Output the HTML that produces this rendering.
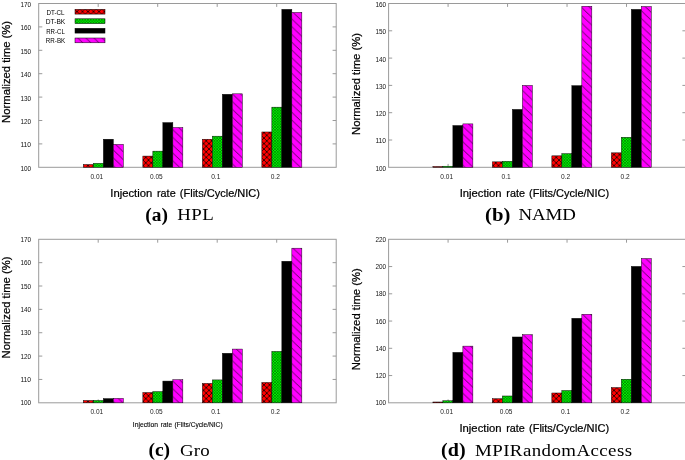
<!DOCTYPE html>
<html lang="en"><head><meta charset="utf-8"><title>Normalized time vs injection rate</title>
<style>html,body{margin:0;padding:0;background:#fff}body{width:685px;height:460px;overflow:hidden}svg{display:block;will-change:transform}</style>
</head><body>
<svg width="685" height="460" viewBox="0 0 685 460" font-family='"Liberation Sans", sans-serif'>
<defs>
<pattern id="pra" patternUnits="userSpaceOnUse" width="5.5" height="5.5" x="0.00" y="0.57"><rect width="5.5" height="5.5" fill="#ff0000"/><path d="M-1 -1L6.5 6.5M-1 6.5L6.5 -1" stroke="#000" stroke-width="0.75" fill="none"/></pattern>
<pattern id="pga" patternUnits="userSpaceOnUse" width="2.75" height="2.75" x="0.00" y="0.57"><rect width="2.75" height="2.75" fill="#00ff00"/><path d="M-1 -1L3.75 3.75M-1 3.75L3.75 -1" stroke="#000" stroke-width="0.38" fill="none"/></pattern>
<pattern id="pma" patternUnits="userSpaceOnUse" width="8.06" height="7.78" x="1.54" y="3.25"><rect width="8.06" height="7.78" fill="#ff00ff"/><path d="M-8.06 -7.78L16.12 15.56M-8.06 0L8.06 15.56M0 -7.78L16.12 7.78" stroke="#000" stroke-width="0.6" fill="none"/></pattern>
<pattern id="prb" patternUnits="userSpaceOnUse" width="5.5" height="5.5" x="3.50" y="0.57"><rect width="5.5" height="5.5" fill="#ff0000"/><path d="M-1 -1L6.5 6.5M-1 6.5L6.5 -1" stroke="#000" stroke-width="0.75" fill="none"/></pattern>
<pattern id="pgb" patternUnits="userSpaceOnUse" width="2.75" height="2.75" x="0.75" y="0.57"><rect width="2.75" height="2.75" fill="#00ff00"/><path d="M-1 -1L3.75 3.75M-1 3.75L3.75 -1" stroke="#000" stroke-width="0.38" fill="none"/></pattern>
<pattern id="pmb" patternUnits="userSpaceOnUse" width="8.06" height="7.78" x="4.96" y="3.25"><rect width="8.06" height="7.78" fill="#ff00ff"/><path d="M-8.06 -7.78L16.12 15.56M-8.06 0L8.06 15.56M0 -7.78L16.12 7.78" stroke="#000" stroke-width="0.6" fill="none"/></pattern>
<pattern id="prc" patternUnits="userSpaceOnUse" width="5.5" height="5.5" x="0.00" y="5.37"><rect width="5.5" height="5.5" fill="#ff0000"/><path d="M-1 -1L6.5 6.5M-1 6.5L6.5 -1" stroke="#000" stroke-width="0.75" fill="none"/></pattern>
<pattern id="pgc" patternUnits="userSpaceOnUse" width="2.75" height="2.75" x="0.00" y="2.62"><rect width="2.75" height="2.75" fill="#00ff00"/><path d="M-1 -1L3.75 3.75M-1 3.75L3.75 -1" stroke="#000" stroke-width="0.38" fill="none"/></pattern>
<pattern id="pmc" patternUnits="userSpaceOnUse" width="8.06" height="7.78" x="1.54" y="5.65"><rect width="8.06" height="7.78" fill="#ff00ff"/><path d="M-8.06 -7.78L16.12 15.56M-8.06 0L8.06 15.56M0 -7.78L16.12 7.78" stroke="#000" stroke-width="0.6" fill="none"/></pattern>
<pattern id="prd" patternUnits="userSpaceOnUse" width="5.5" height="5.5" x="3.50" y="5.37"><rect width="5.5" height="5.5" fill="#ff0000"/><path d="M-1 -1L6.5 6.5M-1 6.5L6.5 -1" stroke="#000" stroke-width="0.75" fill="none"/></pattern>
<pattern id="pgd" patternUnits="userSpaceOnUse" width="2.75" height="2.75" x="0.75" y="2.62"><rect width="2.75" height="2.75" fill="#00ff00"/><path d="M-1 -1L3.75 3.75M-1 3.75L3.75 -1" stroke="#000" stroke-width="0.38" fill="none"/></pattern>
<pattern id="pmd" patternUnits="userSpaceOnUse" width="8.06" height="7.78" x="4.96" y="5.65"><rect width="8.06" height="7.78" fill="#ff00ff"/><path d="M-8.06 -7.78L16.12 15.56M-8.06 0L8.06 15.56M0 -7.78L16.12 7.78" stroke="#000" stroke-width="0.6" fill="none"/></pattern>
</defs>
<rect width="685" height="460" fill="#fff"/>
<rect x="38.7" y="3.5" width="297.50" height="163.80" fill="none" stroke="#9a9a9a" stroke-width="1"/>
<text x="31.1" y="170.80" font-size="7.5" text-anchor="end" textLength="10.7" lengthAdjust="spacingAndGlyphs" fill="#111">100</text>
<path d="M38.7 143.90h3.6M336.2 143.90h-3.6" stroke="#9a9a9a" stroke-width="1" fill="none"/>
<text x="31.1" y="147.40" font-size="7.5" text-anchor="end" textLength="10.7" lengthAdjust="spacingAndGlyphs" fill="#111">110</text>
<path d="M38.7 120.50h3.6M336.2 120.50h-3.6" stroke="#9a9a9a" stroke-width="1" fill="none"/>
<text x="31.1" y="124.00" font-size="7.5" text-anchor="end" textLength="10.7" lengthAdjust="spacingAndGlyphs" fill="#111">120</text>
<path d="M38.7 97.10h3.6M336.2 97.10h-3.6" stroke="#9a9a9a" stroke-width="1" fill="none"/>
<text x="31.1" y="100.60" font-size="7.5" text-anchor="end" textLength="10.7" lengthAdjust="spacingAndGlyphs" fill="#111">130</text>
<path d="M38.7 73.70h3.6M336.2 73.70h-3.6" stroke="#9a9a9a" stroke-width="1" fill="none"/>
<text x="31.1" y="77.20" font-size="7.5" text-anchor="end" textLength="10.7" lengthAdjust="spacingAndGlyphs" fill="#111">140</text>
<path d="M38.7 50.30h3.6M336.2 50.30h-3.6" stroke="#9a9a9a" stroke-width="1" fill="none"/>
<text x="31.1" y="53.80" font-size="7.5" text-anchor="end" textLength="10.7" lengthAdjust="spacingAndGlyphs" fill="#111">150</text>
<path d="M38.7 26.90h3.6M336.2 26.90h-3.6" stroke="#9a9a9a" stroke-width="1" fill="none"/>
<text x="31.1" y="30.40" font-size="7.5" text-anchor="end" textLength="10.7" lengthAdjust="spacingAndGlyphs" fill="#111">160</text>
<text x="31.1" y="7.00" font-size="7.5" text-anchor="end" textLength="10.7" lengthAdjust="spacingAndGlyphs" fill="#111">170</text>
<path d="M98.20 3.5v3.4M98.20 167.3v-3.4" stroke="#9a9a9a" stroke-width="1" fill="none"/>
<rect x="83.35" y="164.49" width="10.00" height="2.81" fill="url(#pra)" stroke="#000" stroke-width="0.45"/>
<rect x="93.35" y="163.32" width="10.00" height="3.98" fill="url(#pga)" stroke="#000" stroke-width="0.45"/>
<rect x="103.35" y="139.22" width="10.00" height="28.08" fill="#000" stroke="#000" stroke-width="0.45"/>
<rect x="113.35" y="144.37" width="10.00" height="22.93" fill="url(#pma)" stroke="#000" stroke-width="0.45"/>
<text x="96.80" y="179.1" font-size="7" text-anchor="middle" textLength="12.7" lengthAdjust="spacingAndGlyphs" fill="#222">0.01</text>
<path d="M157.70 3.5v3.4M157.70 167.3v-3.4" stroke="#9a9a9a" stroke-width="1" fill="none"/>
<rect x="142.85" y="156.07" width="10.00" height="11.23" fill="url(#pra)" stroke="#000" stroke-width="0.45"/>
<rect x="152.85" y="151.15" width="10.00" height="16.15" fill="url(#pga)" stroke="#000" stroke-width="0.45"/>
<rect x="162.85" y="122.61" width="10.00" height="44.69" fill="#000" stroke="#000" stroke-width="0.45"/>
<rect x="172.85" y="127.52" width="10.00" height="39.78" fill="url(#pma)" stroke="#000" stroke-width="0.45"/>
<text x="156.30" y="179.1" font-size="7" text-anchor="middle" textLength="12.7" lengthAdjust="spacingAndGlyphs" fill="#222">0.05</text>
<path d="M217.20 3.5v3.4M217.20 167.3v-3.4" stroke="#9a9a9a" stroke-width="1" fill="none"/>
<rect x="202.35" y="139.22" width="10.00" height="28.08" fill="url(#pra)" stroke="#000" stroke-width="0.45"/>
<rect x="212.35" y="136.18" width="10.00" height="31.12" fill="url(#pga)" stroke="#000" stroke-width="0.45"/>
<rect x="222.35" y="94.29" width="10.00" height="73.01" fill="#000" stroke="#000" stroke-width="0.45"/>
<rect x="232.35" y="93.82" width="10.00" height="73.48" fill="url(#pma)" stroke="#000" stroke-width="0.45"/>
<text x="215.80" y="179.1" font-size="7" text-anchor="middle" textLength="9.2" lengthAdjust="spacingAndGlyphs" fill="#222">0.1</text>
<path d="M276.70 3.5v3.4M276.70 167.3v-3.4" stroke="#9a9a9a" stroke-width="1" fill="none"/>
<rect x="261.85" y="131.97" width="10.00" height="35.33" fill="url(#pra)" stroke="#000" stroke-width="0.45"/>
<rect x="271.85" y="107.16" width="10.00" height="60.14" fill="url(#pga)" stroke="#000" stroke-width="0.45"/>
<rect x="281.85" y="9.35" width="10.00" height="157.95" fill="#000" stroke="#000" stroke-width="0.45"/>
<rect x="291.85" y="12.39" width="10.00" height="154.91" fill="url(#pma)" stroke="#000" stroke-width="0.45"/>
<text x="275.30" y="179.1" font-size="7" text-anchor="middle" textLength="9.2" lengthAdjust="spacingAndGlyphs" fill="#222">0.2</text>
<text transform="translate(10.35 71.9) rotate(-90)" font-size="10.8" text-anchor="middle" textLength="102" lengthAdjust="spacingAndGlyphs" fill="#000" stroke="#000" stroke-width="0.22">Normalized time (%)</text>
<text y="197.4" font-size="10.8" fill="#000" stroke="#000" stroke-width="0.22" xml:space="preserve"><tspan x="110.26" textLength="42.04" lengthAdjust="spacingAndGlyphs">Injection</tspan><tspan x="153.97" textLength="21.69" lengthAdjust="spacingAndGlyphs"> rate</tspan><tspan x="176.75" textLength="83.25" lengthAdjust="spacingAndGlyphs"> (Flits/Cycle/NIC)</tspan></text>
<text x="145.2" y="220.7" font-family='"Liberation Serif", serif' font-weight="bold" font-size="18.5" textLength="22.7" lengthAdjust="spacingAndGlyphs" fill="#000">(a)</text>
<text transform="translate(177.3 220.2) scale(1.18 1)" font-family='"Liberation Serif", serif' font-size="16" textLength="30.9" lengthAdjust="spacing" fill="#000">HPL</text>
<rect x="388.6" y="3.5" width="297.40" height="163.80" fill="none" stroke="#9a9a9a" stroke-width="1"/>
<text x="386.1" y="170.70" font-size="7.5" text-anchor="end" textLength="10.7" lengthAdjust="spacingAndGlyphs" fill="#111">100</text>
<path d="M388.6 140.00h3.6M686.0 140.00h-3.6" stroke="#9a9a9a" stroke-width="1" fill="none"/>
<text x="386.1" y="143.40" font-size="7.5" text-anchor="end" textLength="10.7" lengthAdjust="spacingAndGlyphs" fill="#111">110</text>
<path d="M388.6 112.70h3.6M686.0 112.70h-3.6" stroke="#9a9a9a" stroke-width="1" fill="none"/>
<text x="386.1" y="116.10" font-size="7.5" text-anchor="end" textLength="10.7" lengthAdjust="spacingAndGlyphs" fill="#111">120</text>
<path d="M388.6 85.40h3.6M686.0 85.40h-3.6" stroke="#9a9a9a" stroke-width="1" fill="none"/>
<text x="386.1" y="88.80" font-size="7.5" text-anchor="end" textLength="10.7" lengthAdjust="spacingAndGlyphs" fill="#111">130</text>
<path d="M388.6 58.10h3.6M686.0 58.10h-3.6" stroke="#9a9a9a" stroke-width="1" fill="none"/>
<text x="386.1" y="61.50" font-size="7.5" text-anchor="end" textLength="10.7" lengthAdjust="spacingAndGlyphs" fill="#111">140</text>
<path d="M388.6 30.80h3.6M686.0 30.80h-3.6" stroke="#9a9a9a" stroke-width="1" fill="none"/>
<text x="386.1" y="34.20" font-size="7.5" text-anchor="end" textLength="10.7" lengthAdjust="spacingAndGlyphs" fill="#111">150</text>
<text x="386.1" y="6.90" font-size="7.5" text-anchor="end" textLength="10.7" lengthAdjust="spacingAndGlyphs" fill="#111">160</text>
<path d="M448.08 3.5v3.4M448.08 167.3v-3.4" stroke="#9a9a9a" stroke-width="1" fill="none"/>
<rect x="432.88" y="166.48" width="10.00" height="0.82" fill="url(#prb)" stroke="#000" stroke-width="0.45"/>
<rect x="442.88" y="166.21" width="10.00" height="1.09" fill="url(#pgb)" stroke="#000" stroke-width="0.45"/>
<rect x="452.88" y="125.53" width="10.00" height="41.77" fill="#000" stroke="#000" stroke-width="0.45"/>
<rect x="462.88" y="123.89" width="10.00" height="43.41" fill="url(#pmb)" stroke="#000" stroke-width="0.45"/>
<text x="446.68" y="178.9" font-size="7" text-anchor="middle" textLength="12.7" lengthAdjust="spacingAndGlyphs" fill="#222">0.01</text>
<path d="M507.56 3.5v3.4M507.56 167.3v-3.4" stroke="#9a9a9a" stroke-width="1" fill="none"/>
<rect x="492.36" y="161.84" width="10.00" height="5.46" fill="url(#prb)" stroke="#000" stroke-width="0.45"/>
<rect x="502.36" y="161.29" width="10.00" height="6.01" fill="url(#pgb)" stroke="#000" stroke-width="0.45"/>
<rect x="512.36" y="109.42" width="10.00" height="57.88" fill="#000" stroke="#000" stroke-width="0.45"/>
<rect x="522.36" y="85.40" width="10.00" height="81.90" fill="url(#pmb)" stroke="#000" stroke-width="0.45"/>
<text x="506.16" y="178.9" font-size="7" text-anchor="middle" textLength="9.2" lengthAdjust="spacingAndGlyphs" fill="#222">0.1</text>
<path d="M567.04 3.5v3.4M567.04 167.3v-3.4" stroke="#9a9a9a" stroke-width="1" fill="none"/>
<rect x="551.84" y="155.83" width="10.00" height="11.47" fill="url(#prb)" stroke="#000" stroke-width="0.45"/>
<rect x="561.84" y="153.65" width="10.00" height="13.65" fill="url(#pgb)" stroke="#000" stroke-width="0.45"/>
<rect x="571.84" y="85.67" width="10.00" height="81.63" fill="#000" stroke="#000" stroke-width="0.45"/>
<rect x="581.84" y="6.23" width="10.00" height="161.07" fill="url(#pmb)" stroke="#000" stroke-width="0.45"/>
<text x="565.64" y="178.9" font-size="7" text-anchor="middle" textLength="9.2" lengthAdjust="spacingAndGlyphs" fill="#222">0.2</text>
<path d="M626.52 3.5v3.4M626.52 167.3v-3.4" stroke="#9a9a9a" stroke-width="1" fill="none"/>
<rect x="611.32" y="152.83" width="10.00" height="14.47" fill="url(#prb)" stroke="#000" stroke-width="0.45"/>
<rect x="621.32" y="137.27" width="10.00" height="30.03" fill="url(#pgb)" stroke="#000" stroke-width="0.45"/>
<rect x="631.32" y="9.37" width="10.00" height="157.93" fill="#000" stroke="#000" stroke-width="0.45"/>
<rect x="641.32" y="6.50" width="10.00" height="160.80" fill="url(#pmb)" stroke="#000" stroke-width="0.45"/>
<text x="625.12" y="178.9" font-size="7" text-anchor="middle" textLength="9.2" lengthAdjust="spacingAndGlyphs" fill="#222">0.2</text>
<text transform="translate(359.9 84.0) rotate(-90)" font-size="10.8" text-anchor="middle" textLength="102" lengthAdjust="spacingAndGlyphs" fill="#000" stroke="#000" stroke-width="0.22">Normalized time (%)</text>
<text y="197.2" font-size="10.8" fill="#000" stroke="#000" stroke-width="0.22" xml:space="preserve"><tspan x="459.66" textLength="41.98" lengthAdjust="spacingAndGlyphs">Injection</tspan><tspan x="503.31" textLength="21.66" lengthAdjust="spacingAndGlyphs"> rate</tspan><tspan x="526.06" textLength="83.14" lengthAdjust="spacingAndGlyphs"> (Flits/Cycle/NIC)</tspan></text>
<text x="485.1" y="220.9" font-family='"Liberation Serif", serif' font-weight="bold" font-size="18.5" textLength="25.3" lengthAdjust="spacingAndGlyphs" fill="#000">(b)</text>
<text transform="translate(518.5 220.4) scale(1.18 1)" font-family='"Liberation Serif", serif' font-size="16" textLength="48.6" lengthAdjust="spacing" fill="#000">NAMD</text>
<rect x="38.7" y="239.3" width="297.50" height="163.50" fill="none" stroke="#9a9a9a" stroke-width="1"/>
<text x="31.1" y="405.45" font-size="7.5" text-anchor="end" textLength="10.7" lengthAdjust="spacingAndGlyphs" fill="#111">100</text>
<path d="M38.7 379.44h3.6M336.2 379.44h-3.6" stroke="#9a9a9a" stroke-width="1" fill="none"/>
<text x="31.1" y="382.09" font-size="7.5" text-anchor="end" textLength="10.7" lengthAdjust="spacingAndGlyphs" fill="#111">110</text>
<path d="M38.7 356.09h3.6M336.2 356.09h-3.6" stroke="#9a9a9a" stroke-width="1" fill="none"/>
<text x="31.1" y="358.74" font-size="7.5" text-anchor="end" textLength="10.7" lengthAdjust="spacingAndGlyphs" fill="#111">120</text>
<path d="M38.7 332.73h3.6M336.2 332.73h-3.6" stroke="#9a9a9a" stroke-width="1" fill="none"/>
<text x="31.1" y="335.38" font-size="7.5" text-anchor="end" textLength="10.7" lengthAdjust="spacingAndGlyphs" fill="#111">130</text>
<path d="M38.7 309.37h3.6M336.2 309.37h-3.6" stroke="#9a9a9a" stroke-width="1" fill="none"/>
<text x="31.1" y="312.02" font-size="7.5" text-anchor="end" textLength="10.7" lengthAdjust="spacingAndGlyphs" fill="#111">140</text>
<path d="M38.7 286.01h3.6M336.2 286.01h-3.6" stroke="#9a9a9a" stroke-width="1" fill="none"/>
<text x="31.1" y="288.66" font-size="7.5" text-anchor="end" textLength="10.7" lengthAdjust="spacingAndGlyphs" fill="#111">150</text>
<path d="M38.7 262.66h3.6M336.2 262.66h-3.6" stroke="#9a9a9a" stroke-width="1" fill="none"/>
<text x="31.1" y="265.31" font-size="7.5" text-anchor="end" textLength="10.7" lengthAdjust="spacingAndGlyphs" fill="#111">160</text>
<text x="31.1" y="241.95" font-size="7.5" text-anchor="end" textLength="10.7" lengthAdjust="spacingAndGlyphs" fill="#111">170</text>
<path d="M98.20 239.3v3.4M98.20 402.8v-3.4" stroke="#9a9a9a" stroke-width="1" fill="none"/>
<rect x="83.35" y="400.46" width="10.00" height="2.34" fill="url(#prc)" stroke="#000" stroke-width="0.45"/>
<rect x="93.35" y="400.46" width="10.00" height="2.34" fill="url(#pgc)" stroke="#000" stroke-width="0.45"/>
<rect x="103.35" y="398.60" width="10.00" height="4.20" fill="#000" stroke="#000" stroke-width="0.45"/>
<rect x="113.35" y="398.36" width="10.00" height="4.44" fill="url(#pmc)" stroke="#000" stroke-width="0.45"/>
<text x="96.80" y="414.4" font-size="7" text-anchor="middle" textLength="12.7" lengthAdjust="spacingAndGlyphs" fill="#222">0.01</text>
<path d="M157.70 239.3v3.4M157.70 402.8v-3.4" stroke="#9a9a9a" stroke-width="1" fill="none"/>
<rect x="142.85" y="392.52" width="10.00" height="10.28" fill="url(#prc)" stroke="#000" stroke-width="0.45"/>
<rect x="152.85" y="391.59" width="10.00" height="11.21" fill="url(#pgc)" stroke="#000" stroke-width="0.45"/>
<rect x="162.85" y="381.08" width="10.00" height="21.72" fill="#000" stroke="#000" stroke-width="0.45"/>
<rect x="172.85" y="379.68" width="10.00" height="23.12" fill="url(#pmc)" stroke="#000" stroke-width="0.45"/>
<text x="156.30" y="414.4" font-size="7" text-anchor="middle" textLength="12.7" lengthAdjust="spacingAndGlyphs" fill="#222">0.05</text>
<path d="M217.20 239.3v3.4M217.20 402.8v-3.4" stroke="#9a9a9a" stroke-width="1" fill="none"/>
<rect x="202.35" y="383.41" width="10.00" height="19.39" fill="url(#prc)" stroke="#000" stroke-width="0.45"/>
<rect x="212.35" y="379.91" width="10.00" height="22.89" fill="url(#pgc)" stroke="#000" stroke-width="0.45"/>
<rect x="222.35" y="353.28" width="10.00" height="49.52" fill="#000" stroke="#000" stroke-width="0.45"/>
<rect x="232.35" y="349.08" width="10.00" height="53.72" fill="url(#pmc)" stroke="#000" stroke-width="0.45"/>
<text x="215.80" y="414.4" font-size="7" text-anchor="middle" textLength="9.2" lengthAdjust="spacingAndGlyphs" fill="#222">0.1</text>
<path d="M276.70 239.3v3.4M276.70 402.8v-3.4" stroke="#9a9a9a" stroke-width="1" fill="none"/>
<rect x="261.85" y="382.48" width="10.00" height="20.32" fill="url(#prc)" stroke="#000" stroke-width="0.45"/>
<rect x="271.85" y="351.41" width="10.00" height="51.39" fill="url(#pgc)" stroke="#000" stroke-width="0.45"/>
<rect x="281.85" y="261.26" width="10.00" height="141.54" fill="#000" stroke="#000" stroke-width="0.45"/>
<rect x="291.85" y="248.18" width="10.00" height="154.62" fill="url(#pmc)" stroke="#000" stroke-width="0.45"/>
<text x="275.30" y="414.4" font-size="7" text-anchor="middle" textLength="9.2" lengthAdjust="spacingAndGlyphs" fill="#222">0.2</text>
<text transform="translate(9.9 307.5) rotate(-90)" font-size="10.8" text-anchor="middle" textLength="102" lengthAdjust="spacingAndGlyphs" fill="#000" stroke="#000" stroke-width="0.22">Normalized time (%)</text>
<text y="426.7" font-size="6.5" fill="#000" stroke="#000" stroke-width="0.1" xml:space="preserve"><tspan x="132.80" textLength="25.21" lengthAdjust="spacingAndGlyphs">Injection</tspan><tspan x="159.01" textLength="13.01" lengthAdjust="spacingAndGlyphs"> rate</tspan><tspan x="172.67" textLength="49.93" lengthAdjust="spacingAndGlyphs"> (Flits/Cycle/NIC)</tspan></text>
<text x="148.4" y="456.3" font-family='"Liberation Serif", serif' font-weight="bold" font-size="18.5" textLength="21.7" lengthAdjust="spacingAndGlyphs" fill="#000">(c)</text>
<text transform="translate(179.9 455.8) scale(1.18 1)" font-family='"Liberation Serif", serif' font-size="16" textLength="25.3" lengthAdjust="spacing" fill="#000">Gro</text>
<rect x="388.6" y="239.3" width="297.40" height="163.50" fill="none" stroke="#9a9a9a" stroke-width="1"/>
<text x="386.1" y="405.40" font-size="7.5" text-anchor="end" textLength="10.7" lengthAdjust="spacingAndGlyphs" fill="#111">100</text>
<path d="M388.6 375.55h3.6M686.0 375.55h-3.6" stroke="#9a9a9a" stroke-width="1" fill="none"/>
<text x="386.1" y="378.15" font-size="7.5" text-anchor="end" textLength="10.7" lengthAdjust="spacingAndGlyphs" fill="#111">120</text>
<path d="M388.6 348.30h3.6M686.0 348.30h-3.6" stroke="#9a9a9a" stroke-width="1" fill="none"/>
<text x="386.1" y="350.90" font-size="7.5" text-anchor="end" textLength="10.7" lengthAdjust="spacingAndGlyphs" fill="#111">140</text>
<path d="M388.6 321.05h3.6M686.0 321.05h-3.6" stroke="#9a9a9a" stroke-width="1" fill="none"/>
<text x="386.1" y="323.65" font-size="7.5" text-anchor="end" textLength="10.7" lengthAdjust="spacingAndGlyphs" fill="#111">160</text>
<path d="M388.6 293.80h3.6M686.0 293.80h-3.6" stroke="#9a9a9a" stroke-width="1" fill="none"/>
<text x="386.1" y="296.40" font-size="7.5" text-anchor="end" textLength="10.7" lengthAdjust="spacingAndGlyphs" fill="#111">180</text>
<path d="M388.6 266.55h3.6M686.0 266.55h-3.6" stroke="#9a9a9a" stroke-width="1" fill="none"/>
<text x="386.1" y="269.15" font-size="7.5" text-anchor="end" textLength="10.7" lengthAdjust="spacingAndGlyphs" fill="#111">200</text>
<text x="386.1" y="241.90" font-size="7.5" text-anchor="end" textLength="10.7" lengthAdjust="spacingAndGlyphs" fill="#111">220</text>
<path d="M448.08 239.3v3.4M448.08 402.8v-3.4" stroke="#9a9a9a" stroke-width="1" fill="none"/>
<rect x="432.88" y="401.98" width="10.00" height="0.82" fill="url(#prd)" stroke="#000" stroke-width="0.45"/>
<rect x="442.88" y="400.76" width="10.00" height="2.04" fill="url(#pgd)" stroke="#000" stroke-width="0.45"/>
<rect x="452.88" y="352.39" width="10.00" height="50.41" fill="#000" stroke="#000" stroke-width="0.45"/>
<rect x="462.88" y="346.12" width="10.00" height="56.68" fill="url(#pmd)" stroke="#000" stroke-width="0.45"/>
<text x="446.68" y="414.1" font-size="7" text-anchor="middle" textLength="12.7" lengthAdjust="spacingAndGlyphs" fill="#222">0.01</text>
<path d="M507.56 239.3v3.4M507.56 402.8v-3.4" stroke="#9a9a9a" stroke-width="1" fill="none"/>
<rect x="492.36" y="398.71" width="10.00" height="4.09" fill="url(#prd)" stroke="#000" stroke-width="0.45"/>
<rect x="502.36" y="395.99" width="10.00" height="6.81" fill="url(#pgd)" stroke="#000" stroke-width="0.45"/>
<rect x="512.36" y="336.99" width="10.00" height="65.81" fill="#000" stroke="#000" stroke-width="0.45"/>
<rect x="522.36" y="334.68" width="10.00" height="68.12" fill="url(#pmd)" stroke="#000" stroke-width="0.45"/>
<text x="506.16" y="414.1" font-size="7" text-anchor="middle" textLength="12.7" lengthAdjust="spacingAndGlyphs" fill="#222">0.05</text>
<path d="M567.04 239.3v3.4M567.04 402.8v-3.4" stroke="#9a9a9a" stroke-width="1" fill="none"/>
<rect x="551.84" y="392.99" width="10.00" height="9.81" fill="url(#prd)" stroke="#000" stroke-width="0.45"/>
<rect x="561.84" y="390.54" width="10.00" height="12.26" fill="url(#pgd)" stroke="#000" stroke-width="0.45"/>
<rect x="571.84" y="318.32" width="10.00" height="84.48" fill="#000" stroke="#000" stroke-width="0.45"/>
<rect x="581.84" y="314.24" width="10.00" height="88.56" fill="url(#pmd)" stroke="#000" stroke-width="0.45"/>
<text x="565.64" y="414.1" font-size="7" text-anchor="middle" textLength="9.2" lengthAdjust="spacingAndGlyphs" fill="#222">0.1</text>
<path d="M626.52 239.3v3.4M626.52 402.8v-3.4" stroke="#9a9a9a" stroke-width="1" fill="none"/>
<rect x="611.32" y="387.54" width="10.00" height="15.26" fill="url(#prd)" stroke="#000" stroke-width="0.45"/>
<rect x="621.32" y="379.23" width="10.00" height="23.57" fill="url(#pgd)" stroke="#000" stroke-width="0.45"/>
<rect x="631.32" y="266.41" width="10.00" height="136.39" fill="#000" stroke="#000" stroke-width="0.45"/>
<rect x="641.32" y="258.51" width="10.00" height="144.29" fill="url(#pmd)" stroke="#000" stroke-width="0.45"/>
<text x="625.12" y="414.1" font-size="7" text-anchor="middle" textLength="9.2" lengthAdjust="spacingAndGlyphs" fill="#222">0.2</text>
<text transform="translate(359.8 319.3) rotate(-90)" font-size="10.8" text-anchor="middle" textLength="102" lengthAdjust="spacingAndGlyphs" fill="#000" stroke="#000" stroke-width="0.22">Normalized time (%)</text>
<text y="432.0" font-size="10.8" fill="#000" stroke="#000" stroke-width="0.22" xml:space="preserve"><tspan x="459.46" textLength="42.04" lengthAdjust="spacingAndGlyphs">Injection</tspan><tspan x="503.17" textLength="21.69" lengthAdjust="spacingAndGlyphs"> rate</tspan><tspan x="525.95" textLength="83.25" lengthAdjust="spacingAndGlyphs"> (Flits/Cycle/NIC)</tspan></text>
<text x="441.1" y="456.4" font-family='"Liberation Serif", serif' font-weight="bold" font-size="18.5" textLength="24.5" lengthAdjust="spacingAndGlyphs" fill="#000">(d)</text>
<text transform="translate(475.0 455.9) scale(1.18 1)" font-family='"Liberation Serif", serif' font-size="16" textLength="133.1" lengthAdjust="spacing" fill="#000">MPIRandomAccess</text>
<text x="55.5" y="15.00" font-size="7.5" text-anchor="middle" textLength="18.2" lengthAdjust="spacingAndGlyphs" fill="#000">DT-CL</text>
<rect x="75" y="9.30" width="30" height="4.8" fill="url(#pra)" stroke="#000" stroke-width="0.5"/>
<text x="55.5" y="24.45" font-size="7.5" text-anchor="middle" textLength="19.6" lengthAdjust="spacingAndGlyphs" fill="#000">DT-BK</text>
<rect x="75" y="18.80" width="30" height="4.8" fill="url(#pga)" stroke="#000" stroke-width="0.5"/>
<text x="55.5" y="33.90" font-size="7.5" text-anchor="middle" textLength="18.6" lengthAdjust="spacingAndGlyphs" fill="#000">RR-CL</text>
<rect x="75" y="28.30" width="30" height="4.8" fill="#000" stroke="#000" stroke-width="0.5"/>
<text x="55.5" y="43.35" font-size="7.5" text-anchor="middle" textLength="19.4" lengthAdjust="spacingAndGlyphs" fill="#000">RR-BK</text>
<rect x="75" y="38.00" width="30" height="4.8" fill="url(#pma)" stroke="#000" stroke-width="0.5"/>
</svg></body></html>
